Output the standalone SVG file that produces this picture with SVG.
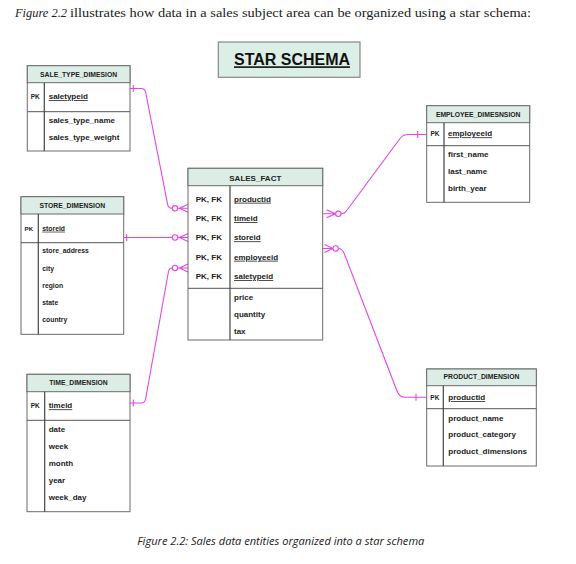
<svg xmlns="http://www.w3.org/2000/svg" width="576" height="564" viewBox="0 0 576 564">
<style>
.bg{fill:#ffffff}
.box{fill:#ffffff;stroke:#6b6b6b;stroke-width:1}
.hdr{fill:#dcede6;stroke:#6b6b6b;stroke-width:1}
.sep{stroke:#555555;stroke-width:1}
.div{stroke:#444444;stroke-width:1.2}
.t{font-family:"Liberation Sans",Arial,sans-serif;font-weight:bold;fill:#222222}
.h{font-size:6.8px;text-anchor:middle}
.pk{font-size:6.5px}
.a{font-size:8px}
.s{font-size:6.8px}
.u{text-decoration:underline}
.c{fill:none;stroke:#e844e8;stroke-width:1.1}
.o{fill:#ffffff;stroke:#e844e8;stroke-width:1.1}
</style>
<rect class="bg" x="0" y="0" width="576" height="564"/>
<text x="15" y="17" font-family="'Liberation Serif',serif" font-style="italic" font-size="13.5" fill="#222" textLength="52" lengthAdjust="spacingAndGlyphs">Figure 2.2</text>
<text x="70" y="17" font-family="'Liberation Serif',serif" font-size="13.5" fill="#222" textLength="461" lengthAdjust="spacingAndGlyphs">illustrates how data in a sales subject area can be organized using a star schema:</text>

<g id="title">
<rect x="218.3" y="42" width="141.7" height="35.3" fill="#dcefe7" stroke="#888888" stroke-width="1.2"/>
<text x="292" y="65.3" font-family="'Liberation Sans',Arial,sans-serif" font-weight="bold" font-size="16" text-anchor="middle" fill="#111" text-decoration="underline" textLength="116" lengthAdjust="spacingAndGlyphs">STAR SCHEMA</text>
</g>

<g id="connectors">
<!-- sale type -->
<path class="c" d="M130,88.5 H141 Q145,88.5 145.7,92.5 L167.6,204.3 Q168.4,208.3 172.3,208.3"/>
<line class="c" x1="133.3" y1="85" x2="133.3" y2="92"/>
<path class="c" d="M177.7,208.3 H188 M179.5,208.3 L188,204.3 M179.5,208.3 L188,212.3"/>
<circle class="o" cx="175" cy="208.3" r="2.7"/>
<!-- store -->
<path class="c" d="M123.7,237.5 H172.3"/>
<line class="c" x1="126.7" y1="234" x2="126.7" y2="241"/>
<path class="c" d="M177.7,237.5 H188 M179.5,237.5 L188,233.5 M179.5,237.5 L188,241.5"/>
<circle class="o" cx="175" cy="237.5" r="2.7"/>
<!-- time -->
<path class="c" d="M130,403 H141 Q145,403 145.6,399 L168.4,272 Q169.2,268 172.3,268"/>
<line class="c" x1="133.3" y1="399.5" x2="133.3" y2="406.5"/>
<path class="c" d="M177.7,268 H188 M179.5,268 L188,264 M179.5,268 L188,272"/>
<circle class="o" cx="175" cy="268" r="2.7"/>
<!-- employee -->
<path class="c" d="M341,213.8 Q344.5,213.8 347.5,209.5 L400,138.5 Q403,134.5 408,134.5 H426.7"/>
<line class="c" x1="417.7" y1="131" x2="417.7" y2="138"/>
<path class="c" d="M322.7,213.8 H335.6 M326.5,209.8 L335.6,213.8 M326.5,217.8 L335.6,213.8"/>
<circle class="o" cx="338.3" cy="213.8" r="2.7"/>
<!-- product -->
<path class="c" d="M338.4,248.5 Q342,248.5 344,253 L397,391 Q399.5,397.3 405,397.3 H426.7"/>
<line class="c" x1="416" y1="393.8" x2="416" y2="400.8"/>
<path class="c" d="M322.7,248.5 H333 M324.5,244.5 L333,248.5 M324.5,252.5 L333,248.5"/>
<circle class="o" cx="335.7" cy="248.5" r="2.7"/>
</g>

<g id="sale_type_dimesion">
<rect class="box" x="27.3" y="65.7" width="102.7" height="85.3"/>
<rect class="hdr" x="27.3" y="65.7" width="102.7" height="17"/>
<line class="sep" x1="27.3" y1="111.7" x2="130" y2="111.7"/>
<line class="div" x1="44.3" y1="82.7" x2="44.3" y2="151"/>
<text class="t h" x="78.6" y="76.7">SALE_TYPE_DIMESION</text>
<text class="t pk" x="30.7" y="99">PK</text>
<text class="t a u" x="48.7" y="99">saletypeid</text>
<text class="t a" x="48.7" y="123.3">sales_type_name</text>
<text class="t a" x="48.7" y="140.3">sales_type_weight</text>
</g>

<g id="store_dimension">
<rect class="box" x="21" y="196.7" width="102.7" height="137.6"/>
<rect class="hdr" x="21" y="196.7" width="102.7" height="17.3"/>
<line class="sep" x1="21" y1="242.7" x2="123.7" y2="242.7"/>
<line class="div" x1="38.3" y1="214" x2="38.3" y2="334.3"/>
<text class="t h" x="72.3" y="207.7">STORE_DIMENSION</text>
<text class="t" font-size="6.2" x="24.5" y="230.7">PK</text>
<text class="t s u" x="42.3" y="230.7">storeid</text>
<text class="t s" x="42.3" y="253.3">store_address</text>
<text class="t s" x="42.3" y="270.7">city</text>
<text class="t s" x="42.3" y="287.7">region</text>
<text class="t s" x="42.3" y="305">state</text>
<text class="t s" x="42.3" y="322">country</text>
</g>

<g id="time_dimension">
<rect class="box" x="27" y="374.3" width="103" height="137.4"/>
<rect class="hdr" x="27" y="374.3" width="103" height="17.4"/>
<line class="sep" x1="27" y1="420.3" x2="130" y2="420.3"/>
<line class="div" x1="44.7" y1="391.7" x2="44.7" y2="511.7"/>
<text class="t h" x="78.5" y="385">TIME_DIMENSION</text>
<text class="t pk" x="30.7" y="408.3">PK</text>
<text class="t a u" x="48.7" y="408.3">timeid</text>
<text class="t a" x="48.7" y="431.7">date</text>
<text class="t a" x="48.7" y="449">week</text>
<text class="t a" x="48.7" y="466">month</text>
<text class="t a" x="48.7" y="483">year</text>
<text class="t a" x="48.7" y="500">week_day</text>
</g>

<g id="sales_fact">
<rect class="box" x="188" y="168.3" width="134.7" height="171.7"/>
<rect class="hdr" x="188" y="168.3" width="134.7" height="17.4"/>
<line class="sep" x1="188" y1="288.3" x2="322.7" y2="288.3"/>
<line class="div" x1="230" y1="185.7" x2="230" y2="340"/>
<text class="t a" x="255.3" y="180.7" text-anchor="middle">SALES_FACT</text>
<text class="t a" x="195.7" y="201.7">PK, FK</text>
<text class="t a" x="195.7" y="221">PK, FK</text>
<text class="t a" x="195.7" y="240.3">PK, FK</text>
<text class="t a" x="195.7" y="259.7">PK, FK</text>
<text class="t a" x="195.7" y="279">PK, FK</text>
<text class="t a u" x="234" y="201.7">productid</text>
<text class="t a u" x="234" y="221">timeid</text>
<text class="t a u" x="234" y="240.3">storeid</text>
<text class="t a u" x="234" y="259.7">employeeid</text>
<text class="t a u" x="234" y="279">saletypeid</text>
<text class="t a" x="234" y="300">price</text>
<text class="t a" x="234" y="317">quantity</text>
<text class="t a" x="234" y="334.3">tax</text>
</g>

<g id="employee_dimesnsion">
<rect class="box" x="426.7" y="105.7" width="103" height="96.6"/>
<rect class="hdr" x="426.7" y="105.7" width="103" height="17"/>
<line class="sep" x1="426.7" y1="145.7" x2="529.7" y2="145.7"/>
<line class="div" x1="444" y1="122.7" x2="444" y2="202.3"/>
<text class="t h" x="478.2" y="116.7">EMPLOYEE_DIMESNSION</text>
<text class="t pk" x="430.5" y="136.3">PK</text>
<text class="t a u" x="448" y="136.3">employeeid</text>
<text class="t a" x="448" y="156.7">first_name</text>
<text class="t a" x="448" y="174">last_name</text>
<text class="t a" x="448" y="191.3">birth_year</text>
</g>

<g id="product_dimension">
<rect class="box" x="426.7" y="369" width="109.6" height="97"/>
<rect class="hdr" x="426.7" y="369" width="109.6" height="16.7"/>
<line class="sep" x1="426.7" y1="408.7" x2="536.3" y2="408.7"/>
<line class="div" x1="443.3" y1="385.7" x2="443.3" y2="466"/>
<text class="t h" x="481.5" y="379.3">PRODUCT_DIMENSION</text>
<text class="t pk" x="430.3" y="400">PK</text>
<text class="t a u" x="448.3" y="400">productid</text>
<text class="t a" x="448.3" y="420.7">product_name</text>
<text class="t a" x="448.3" y="437.3">product_category</text>
<text class="t a" x="448.3" y="454.3">product_dimensions</text>
</g>

<text x="137.3" y="545" font-family="'Open Sans','Noto Sans',sans-serif" font-style="italic" font-size="10.5" fill="#222" textLength="287" lengthAdjust="spacingAndGlyphs">Figure 2.2: Sales data entities organized into a star schema</text>
</svg>
